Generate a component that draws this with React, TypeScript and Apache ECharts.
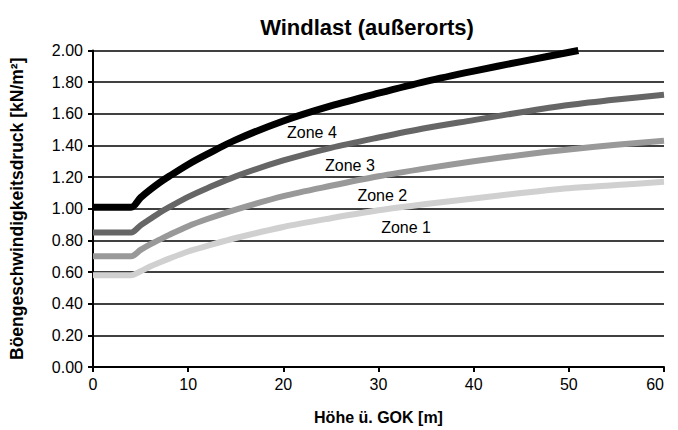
import React, { useEffect, useRef } from "react";
import * as echarts from "echarts";

// x positions (height above ground, m)
const zoneX = [0, 4, 5, 6, 7, 8, 10, 12, 15, 20, 25, 30, 35, 40, 45, 50, 55, 60];
const zone4X = [0, 4, 5, 6, 7, 8, 10, 12, 15, 20, 25, 30, 35, 40, 45, 51];

// gust velocity pressure values [kN/m²]
const zone4 = [1.01, 1.01, 1.07, 1.12, 1.165, 1.205, 1.28, 1.345, 1.435, 1.555, 1.65, 1.73, 1.805, 1.87, 1.93, 2.0];
const zone3 = [0.85, 0.85, 0.895, 0.935, 0.975, 1.01, 1.075, 1.13, 1.205, 1.305, 1.385, 1.45, 1.51, 1.56, 1.61, 1.655, 1.69, 1.72];
const zone2 = [0.7, 0.7, 0.74, 0.775, 0.805, 0.835, 0.89, 0.935, 0.995, 1.08, 1.145, 1.205, 1.255, 1.3, 1.34, 1.375, 1.405, 1.43];
const zone1 = [0.58, 0.58, 0.605, 0.635, 0.66, 0.685, 0.73, 0.765, 0.815, 0.885, 0.94, 0.99, 1.03, 1.065, 1.1, 1.13, 1.15, 1.17];

const zoneNames = ["Zone 1", "Zone 2", "Zone 3", "Zone 4"];
const xTicks = [0, 10, 20, 30, 40, 50, 60];
const yTicks = [0, 0.2, 0.4, 0.6, 0.8, 1.0, 1.2, 1.4, 1.6, 1.8, 2.0];

// label anchor points (data coordinates) for the zone names
const labelAnchors: [number, number][] = [
  [32.9, 0.88],
  [30.4, 1.085],
  [27.0, 1.275],
  [23.0, 1.48],
];

const FONT = "'Liberation Sans', Arial, sans-serif";

export default function App() {
  const ref = useRef<HTMLDivElement>(null);

  useEffect(() => {
    if (!ref.current) return;
    const chart = echarts.init(ref.current, undefined, { renderer: "svg" });

    const pairs = (xs: number[], ys: number[]) => xs.map((x, i) => [x, ys[i]]);
    const datasets = [pairs(zoneX, zone1), pairs(zoneX, zone2), pairs(zoneX, zone3), pairs(zone4X, zone4)];
    const colors = ["#d0d0d0", "#999999", "#666666", "#000000"];
    const widths = [6, 6, 6, 7];

    chart.setOption({
      animation: false,
      backgroundColor: "#ffffff",
      textStyle: { fontFamily: FONT },
      title: {
        text: "Windlast (außerorts)",
        left: 362,
        textAlign: "center",
        top: 11,
        textStyle: { fontFamily: FONT, fontSize: 22, fontWeight: "bold", color: "#000" },
      },
      grid: { left: 90, right: 14, top: 50.5, bottom: 57.3, containLabel: false },
      xAxis: {
        type: "value",
        min: xTicks[0],
        max: xTicks[xTicks.length - 1],
        interval: 10,
        name: "Höhe ü. GOK [m]",
        nameLocation: "middle",
        nameGap: 42,
        nameTextStyle: { fontFamily: FONT, fontSize: 16, fontWeight: "bold", color: "#000" },
        axisLine: { show: true, lineStyle: { color: "#000", width: 2 } },
        axisTick: { show: true, length: 5, lineStyle: { color: "#000", width: 2 } },
        axisLabel: { fontFamily: FONT, fontSize: 16, color: "#000", margin: 9, alignMaxLabel: "right" },
        splitLine: { show: false },
      },
      yAxis: {
        type: "value",
        min: yTicks[0],
        max: yTicks[yTicks.length - 1],
        interval: 0.2,
        name: "Böengeschwindigkeitsdruck [kN/m²]",
        nameLocation: "middle",
        nameGap: 67,
        nameTextStyle: { fontFamily: FONT, fontSize: 17.5, fontWeight: "bold", color: "#000" },
        axisLine: { show: true, lineStyle: { color: "#000", width: 2 } },
        axisTick: { show: true, length: 5, lineStyle: { color: "#000", width: 2 } },
        axisLabel: {
          fontFamily: FONT,
          fontSize: 16,
          color: "#000",
          margin: 10,
          formatter: (v: number) => v.toFixed(2),
        },
        splitLine: { show: true, lineStyle: { color: "#000", width: 1.6 } },
      },
      series: datasets.map((d, i) => ({
        type: "line",
        name: zoneNames[i],
        data: d,
        showSymbol: false,
        symbol: "none",
        smooth: 0.3,
        lineStyle: { color: colors[i], width: widths[i], cap: "butt", join: "miter" },
        z: 3 + i,
        markPoint: {
          symbol: "circle",
          symbolSize: 0,
          silent: true,
          data: [
            {
              coord: labelAnchors[i],
              label: {
                show: true,
                formatter: zoneNames[i],
                position: "inside",
                fontFamily: FONT,
                fontSize: 16,
                color: "#000",
              },
            },
          ],
        },
      })),
    });

    return () => chart.dispose();
  }, []);

  return (
    <div
      ref={ref}
      style={{ position: "fixed", left: 0, top: 0, width: 678, height: 430, background: "#fff" }}
    />
  );
}
